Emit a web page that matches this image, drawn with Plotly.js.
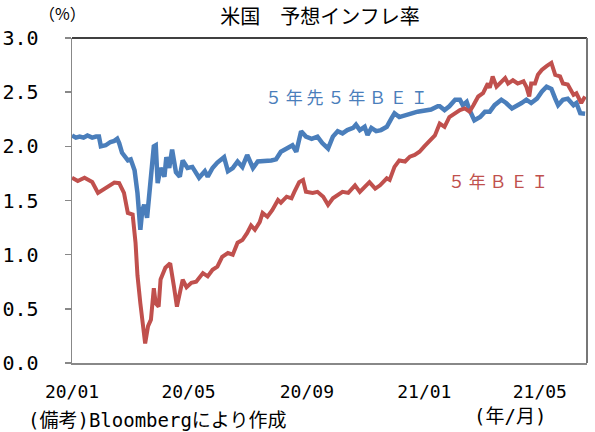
<!DOCTYPE html>
<html>
<head>
<meta charset="utf-8">
<script src="https://cdn.plot.ly/plotly-3.0.1.min.js"></script>
<style>html,body{margin:0;padding:0;background:#fff;}#chart{width:595px;height:432px;}</style>
</head>
<body>
<div id="chart"></div>
<script>
// Days since 2020-01-01 and values (%)
const fwdDays = [0,4,8,12,16,21,25,28,30,35,40,44,47,49,52,58,61,65,68,70,71,73,75,78,81,83,85,87,89,92,96,98,101,104,108,112,115,120,125,132,138,141,146,151,158,162,167,172,177,182,188,193,200,207,212,217,224,229,233,238,243,249,255,260,266,271,276,281,286,292,295,299,304,307,311,316,321,327,332,335,340,346,353,359,366,373,380,382,387,392,398,403,406,410,413,418,424,429,434,439,446,451,457,462,467,472,477,483,488,493,498,502,505,510,515,521,524,528,533];
const fwdBEI = [2.10,2.08,2.09,2.08,2.10,2.08,2.09,2.09,2.00,2.01,2.04,2.05,2.07,2.03,1.94,1.87,1.88,1.78,1.57,1.38,1.23,1.41,1.46,1.34,1.63,1.85,2.00,2.01,1.66,1.80,1.72,1.90,1.80,1.97,1.76,1.72,1.87,1.80,1.81,1.71,1.77,1.72,1.80,1.85,1.90,1.77,1.80,1.86,1.81,1.92,1.80,1.86,1.86,1.87,1.88,1.95,1.985,2.01,1.95,2.14,2.09,2.07,2.09,2.03,1.98,2.09,2.14,2.12,2.15,2.17,2.20,2.15,2.18,2.105,2.17,2.14,2.15,2.18,2.26,2.305,2.27,2.29,2.305,2.32,2.335,2.34,2.37,2.37,2.335,2.37,2.43,2.43,2.38,2.41,2.335,2.24,2.27,2.32,2.32,2.38,2.43,2.40,2.35,2.37,2.40,2.43,2.40,2.44,2.505,2.55,2.53,2.44,2.38,2.43,2.44,2.38,2.40,2.305,2.30];
const bei5Days = [0,6,13,21,27,32,37,44,49,54,58,63,66,68,71,74,76,79,82,85,87,90,92,97,102,106,109,115,119,124,129,136,141,146,151,156,162,167,172,177,182,186,190,195,198,203,208,214,217,223,228,231,236,240,243,250,255,261,266,271,276,281,287,294,299,304,309,315,320,327,330,335,340,346,351,356,361,366,372,377,382,387,392,398,403,408,413,417,422,427,432,434,437,441,446,450,453,458,463,469,472,475,477,481,484,488,493,498,502,507,510,515,521,524,529,533];
const bei5 = [1.71,1.68,1.71,1.67,1.57,1.60,1.62,1.665,1.66,1.57,1.385,1.37,1.11,0.81,0.55,0.30,0.18,0.34,0.40,0.69,0.55,0.52,0.77,0.88,0.92,0.70,0.52,0.77,0.70,0.74,0.75,0.83,0.80,0.86,0.89,0.98,1.015,1.00,1.11,1.135,1.20,1.27,1.23,1.30,1.385,1.35,1.41,1.505,1.48,1.535,1.52,1.58,1.67,1.69,1.58,1.57,1.58,1.535,1.46,1.52,1.55,1.58,1.57,1.64,1.58,1.63,1.67,1.61,1.64,1.705,1.69,1.81,1.87,1.86,1.905,1.92,1.95,2.00,2.06,2.10,2.21,2.18,2.27,2.305,2.335,2.35,2.32,2.38,2.46,2.49,2.58,2.54,2.645,2.55,2.60,2.63,2.58,2.61,2.58,2.60,2.55,2.46,2.58,2.58,2.66,2.705,2.74,2.77,2.66,2.645,2.58,2.57,2.475,2.49,2.40,2.46];
const xTickVals = ['2020-01-01','2020-05-01','2020-09-01','2021-01-01','2021-05-01'];
const xTickText = ['20/01','20/05','20/09','21/01','21/05'];
const yTickVals = [0,0.5,1,1.5,2,2.5,3];
const yTickText = ['0.0','0.5','1.0','1.5','2.0','2.5','3.0'];
const seriesNames = ['５ 年 先 ５ 年 Ｂ Ｅ Ｉ','５ 年 Ｂ Ｅ Ｉ'];

const base = Date.UTC(2020,0,1);
const toDate = d => new Date(base + d*86400000).toISOString().slice(0,10);

const BLUE = '#4a7ebb', RED = '#c0504d';
const CJK = 'Noto Sans CJK JP';
const MONO = '"DejaVu Sans Mono", "Noto Sans CJK JP"';

// plot area pixels: left 72, right 587, top 38, bottom 363
const L=72, R=587, T=38, B=363;
const px = x => (x-L)/(R-L);
const py = y => (B-y)/(B-T);

const traces = [
  {x: fwdDays.map(toDate), y: fwdBEI, type:'scatter', mode:'lines', name: seriesNames[0],
   line:{color:BLUE, width:4.5}},
  {x: bei5Days.map(toDate), y: bei5, type:'scatter', mode:'lines', name: seriesNames[1],
   line:{color:RED, width:4}}
];

const layout = {
  width:595, height:432,
  margin:{l:L, r:595-R, t:T, b:432-B, pad:0},
  paper_bgcolor:'#fff', plot_bgcolor:'#fff',
  showlegend:false,
  title:{text:'米国　予想インフレ率', font:{family:CJK, size:20, color:'#000'},
         xref:'container', yref:'container', x:320/595, xanchor:'center', y:1-17/432, yanchor:'middle'},
  xaxis:{type:'date', range:['2020-01-01','2021-06-19'], tickvals:xTickVals, ticktext:xTickText,
         showgrid:false, zeroline:false, showline:true, linecolor:'#888', linewidth:1.5,
         ticks:'', ticklabelstandoff:12, tickfont:{family:MONO, size:18, color:'#000'}},
  yaxis:{range:[0,3], tickvals:yTickVals, ticktext:yTickText, showgrid:false, zeroline:false,
         showline:true, linecolor:'#888', linewidth:1.5, ticks:'outside', ticklen:6, tickcolor:'#888', tickwidth:1.5,
         ticklabelstandoff:22, tickfont:{family:MONO, size:20, color:'#000'}},
  shapes:[
    {type:'line', xref:'paper', yref:'paper', x0:0, x1:1, y0:1, y1:1, line:{color:'#000', width:1.5}},
    {type:'line', xref:'paper', yref:'paper', x0:1, x1:1, y0:0, y1:1, line:{color:'#777', width:2}}
  ],
  annotations:[
    {text:'（%）', xref:'paper', yref:'paper', x:px(62), y:py(13), xanchor:'center', yanchor:'middle',
     showarrow:false, font:{family:CJK, size:16, color:'#000'}},
    {text:seriesNames[0], xref:'paper', yref:'paper', x:px(346), y:py(96), xanchor:'center', yanchor:'middle',
     showarrow:false, font:{family:CJK, size:17, color:BLUE}},
    {text:seriesNames[1], xref:'paper', yref:'paper', x:px(498), y:py(180), xanchor:'center', yanchor:'middle',
     showarrow:false, font:{family:CJK, size:17, color:RED}},
    {text:'(備考)Bloombergにより作成', xref:'paper', yref:'paper', x:px(26), y:py(420), xanchor:'left', yanchor:'middle',
     showarrow:false, font:{family:MONO, size:19, color:'#000'}},
    {text:'(年/月)', xref:'paper', yref:'paper', x:px(510), y:py(416), xanchor:'center', yanchor:'middle',
     showarrow:false, font:{family:MONO, size:19, color:'#000'}}
  ]
};

Plotly.newPlot('chart', traces, layout, {staticPlot:true, displayModeBar:false});
</script>
</body>
</html>
